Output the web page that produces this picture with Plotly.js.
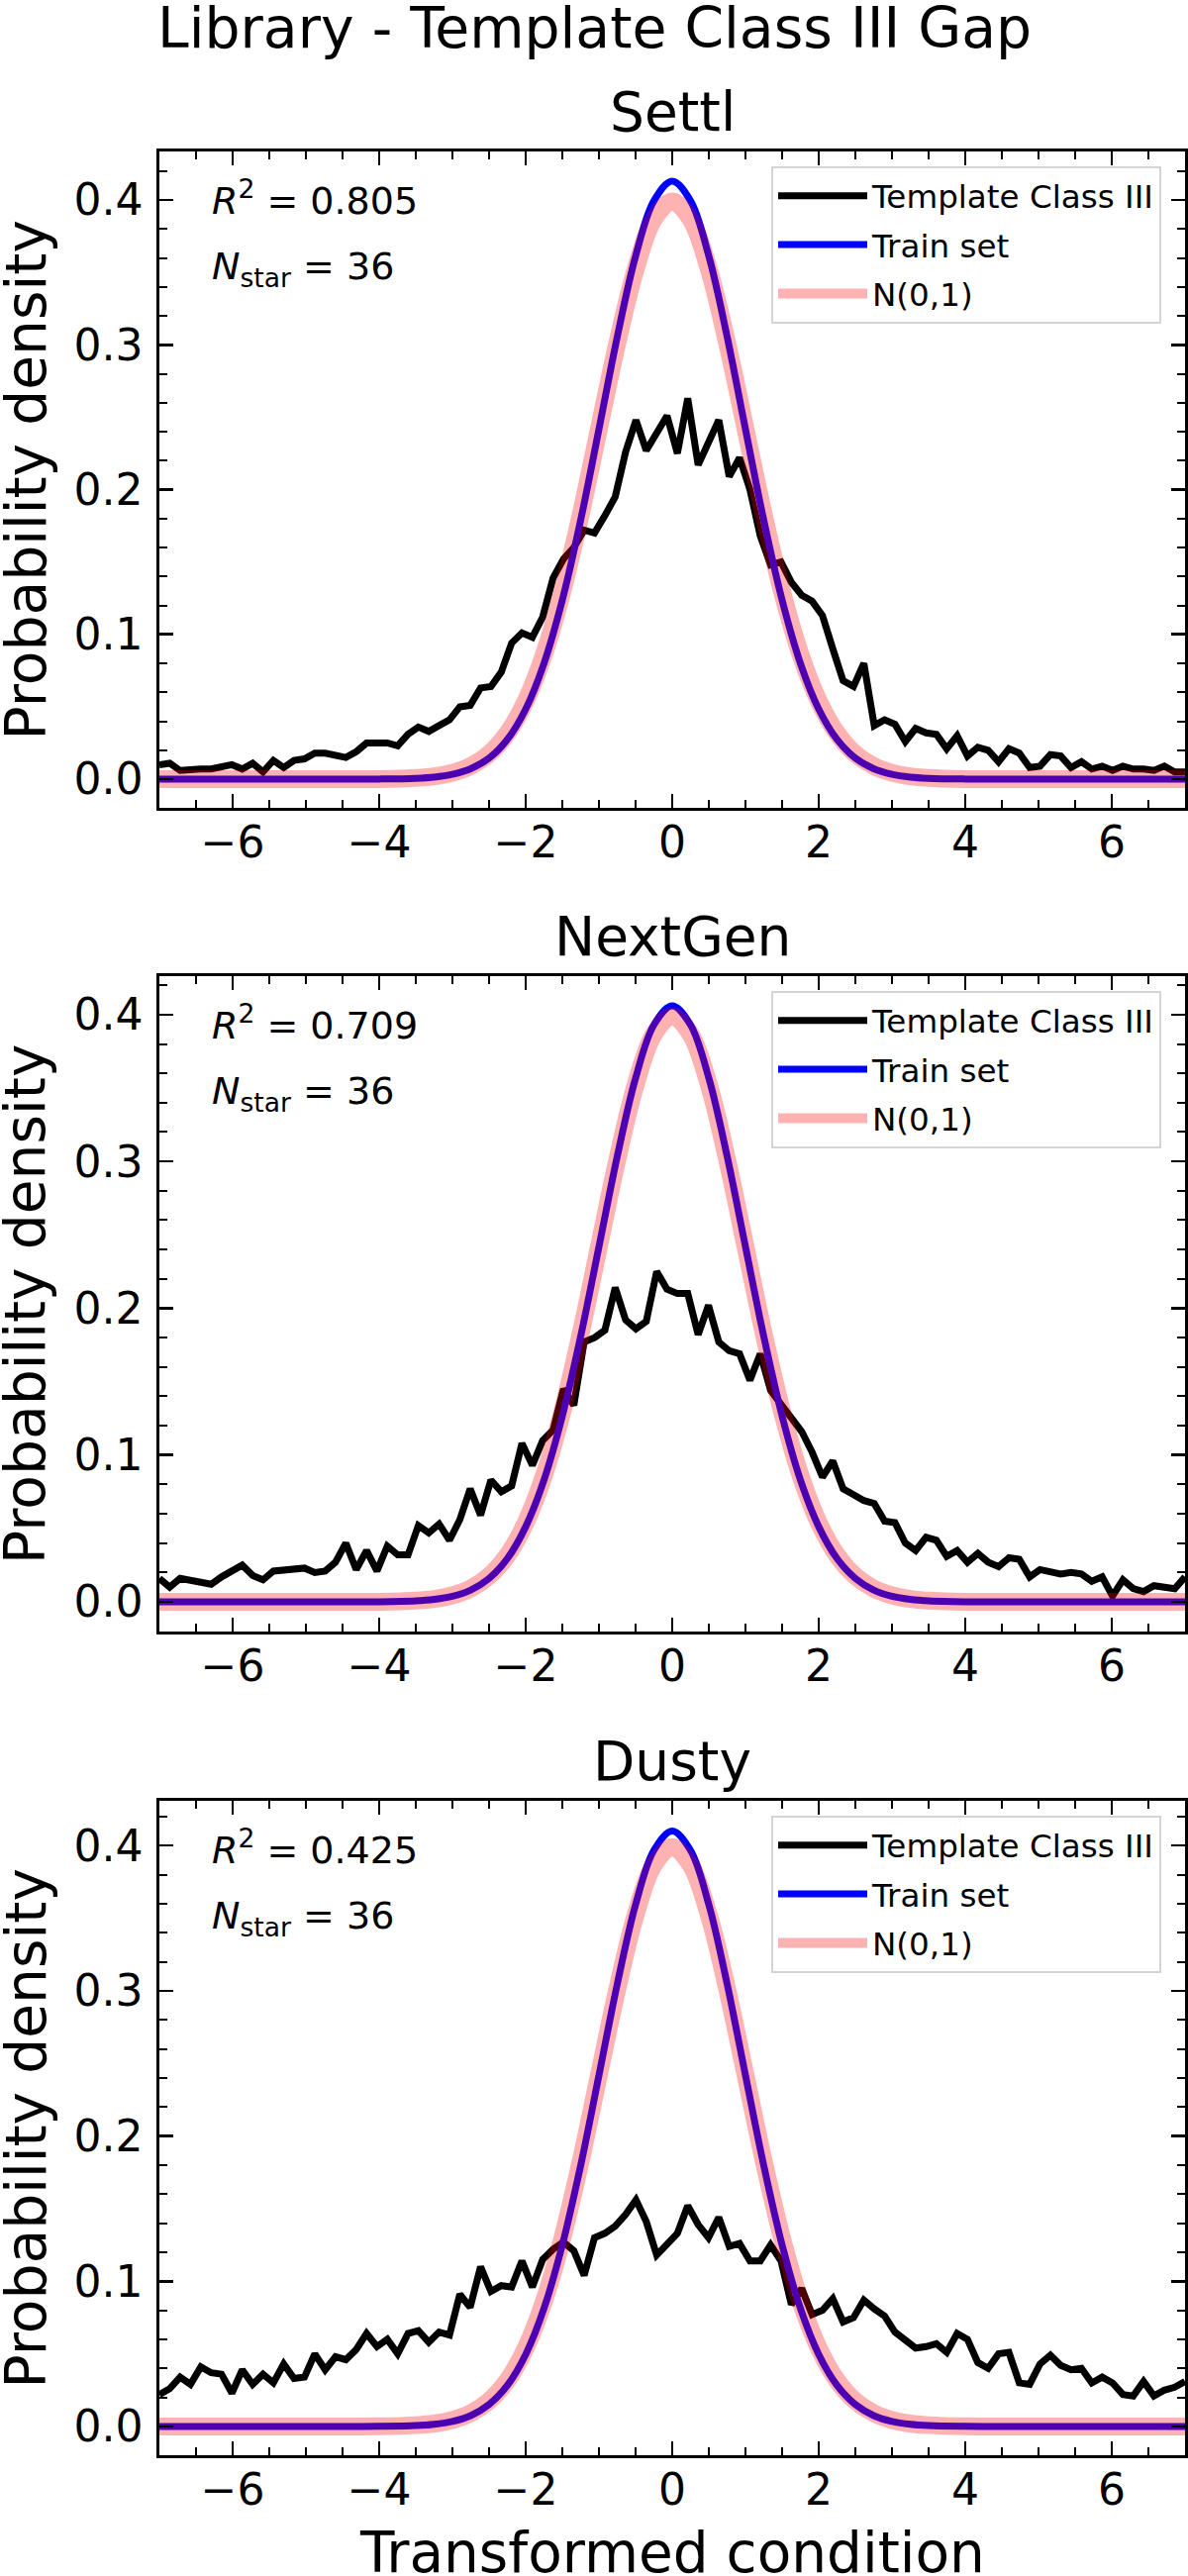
<!DOCTYPE html>
<html>
<head>
<meta charset="utf-8">
<script src="https://cdn.plot.ly/plotly-3.0.1.min.js"></script>
<style>body{margin:0;background:#fff}</style>
</head>
<body>
<div id="chart" style="width:1200px;height:2602px"></div>
<script>
"use strict";

// x positions of the template curves (same grid in every panel)
const templateX = [
  -7.000, -6.859, -6.717, -6.576, -6.434, -6.293, -6.152, -6.010, -5.869, -5.727,
  -5.586, -5.444, -5.303, -5.162, -5.020, -4.879, -4.737, -4.596, -4.455, -4.313,
  -4.172, -4.030, -3.889, -3.747, -3.606, -3.465, -3.323, -3.182, -3.040, -2.899,
  -2.758, -2.616, -2.475, -2.333, -2.192, -2.051, -1.909, -1.768, -1.626, -1.485,
  -1.343, -1.202, -1.061, -0.919, -0.778, -0.636, -0.495, -0.354, -0.212, -0.071,
  0.071, 0.212, 0.354, 0.495, 0.636, 0.778, 0.919, 1.061, 1.202, 1.343,
  1.485, 1.626, 1.768, 1.909, 2.051, 2.192, 2.333, 2.475, 2.616, 2.758,
  2.899, 3.040, 3.182, 3.323, 3.465, 3.606, 3.747, 3.889, 4.030, 4.172,
  4.313, 4.455, 4.596, 4.737, 4.879, 5.020, 5.162, 5.303, 5.444, 5.586,
  5.727, 5.869, 6.010, 6.152, 6.293, 6.434, 6.576, 6.717, 6.859, 7.000
];

const settlTemplate = [
  0.010, 0.011, 0.006, 0.007, 0.007, 0.007, 0.009, 0.010, 0.007, 0.011,
  0.005, 0.013, 0.008, 0.013, 0.014, 0.018, 0.018, 0.017, 0.015, 0.019,
  0.025, 0.025, 0.025, 0.023, 0.031, 0.036, 0.033, 0.037, 0.041, 0.050,
  0.051, 0.063, 0.064, 0.074, 0.094, 0.101, 0.098, 0.112, 0.139, 0.152,
  0.160, 0.172, 0.170, 0.182, 0.195, 0.226, 0.248, 0.227, 0.238, 0.251,
  0.225, 0.263, 0.217, 0.232, 0.248, 0.209, 0.222, 0.200, 0.168, 0.148,
  0.150, 0.136, 0.127, 0.123, 0.113, 0.090, 0.068, 0.064, 0.080, 0.037,
  0.041, 0.038, 0.026, 0.035, 0.032, 0.031, 0.021, 0.030, 0.016, 0.022,
  0.020, 0.012, 0.021, 0.018, 0.008, 0.009, 0.017, 0.016, 0.008, 0.012,
  0.007, 0.009, 0.006, 0.009, 0.007, 0.007, 0.006, 0.009, 0.005, 0.005
];

const nextgenTemplate = [
  0.016, 0.010, 0.016, 0.015, 0.014, 0.012, 0.017, 0.021, 0.025, 0.018,
  0.015, 0.021, 0.022, 0.023, 0.023, 0.020, 0.021, 0.027, 0.040, 0.022,
  0.035, 0.021, 0.038, 0.032, 0.032, 0.052, 0.047, 0.053, 0.042, 0.056,
  0.077, 0.059, 0.083, 0.075, 0.079, 0.108, 0.093, 0.110, 0.117, 0.145,
  0.134, 0.177, 0.180, 0.185, 0.214, 0.192, 0.186, 0.191, 0.225, 0.213,
  0.210, 0.210, 0.182, 0.202, 0.177, 0.171, 0.169, 0.151, 0.169, 0.144,
  0.135, 0.126, 0.116, 0.102, 0.085, 0.096, 0.077, 0.073, 0.069, 0.067,
  0.055, 0.054, 0.040, 0.035, 0.044, 0.042, 0.031, 0.035, 0.027, 0.033,
  0.027, 0.024, 0.030, 0.029, 0.017, 0.022, 0.021, 0.019, 0.020, 0.019,
  0.014, 0.017, 0.004, 0.015, 0.009, 0.007, 0.011, 0.010, 0.009, 0.017
];

const dustyTemplate = [
  0.022, 0.026, 0.034, 0.029, 0.041, 0.037, 0.036, 0.023, 0.039, 0.029,
  0.036, 0.030, 0.043, 0.033, 0.034, 0.050, 0.039, 0.048, 0.046, 0.053,
  0.064, 0.055, 0.060, 0.050, 0.064, 0.066, 0.058, 0.065, 0.063, 0.091,
  0.082, 0.110, 0.093, 0.097, 0.096, 0.114, 0.096, 0.115, 0.122, 0.127,
  0.121, 0.104, 0.130, 0.133, 0.138, 0.146, 0.156, 0.141, 0.118, 0.126,
  0.133, 0.152, 0.139, 0.130, 0.144, 0.124, 0.126, 0.114, 0.114, 0.125,
  0.114, 0.084, 0.095, 0.077, 0.080, 0.088, 0.072, 0.075, 0.087, 0.081,
  0.076, 0.065, 0.059, 0.054, 0.055, 0.057, 0.051, 0.064, 0.060, 0.044,
  0.040, 0.050, 0.051, 0.030, 0.029, 0.043, 0.049, 0.042, 0.039, 0.040,
  0.030, 0.034, 0.030, 0.022, 0.021, 0.031, 0.021, 0.025, 0.027, 0.031
];

// x positions of the smooth curves
const smoothX = [
  -7, -6, -5, -4.5, -4, -3.5, -3.25, -3, -2.75, -2.5, -2.25, -2, -1.75, -1.5, -1.25, -1, -0.75, -0.5, -0.25,
  0, 0.25, 0.5, 0.75, 1, 1.25, 1.5, 1.75, 2, 2.25, 2.5, 2.75, 3, 3.25, 3.5, 4, 4.5, 5, 6, 7
];

const normalCurve = [
  0, 0, 0, 0, 0.0001, 0.0009, 0.0020, 0.0044, 0.0091, 0.0175, 0.0317, 0.0540, 0.0863, 0.1295, 0.1826, 0.2420, 0.3011, 0.3521, 0.3867,
  0.3989, 0.3867, 0.3521, 0.3011, 0.2420, 0.1826, 0.1295, 0.0863, 0.0540, 0.0317, 0.0175, 0.0091, 0.0044, 0.0020, 0.0009, 0.0001, 0, 0, 0, 0
];

const settlTrain = [
  0, 0, 0, 0, 0.0001, 0.0006, 0.0014, 0.0033, 0.0072, 0.0145, 0.0274, 0.0484, 0.0800, 0.1237, 0.1788, 0.2417, 0.3055, 0.3612, 0.3994,
  0.4130, 0.3994, 0.3612, 0.3055, 0.2417, 0.1788, 0.1237, 0.0800, 0.0484, 0.0274, 0.0145, 0.0072, 0.0033, 0.0014, 0.0006, 0.0001, 0, 0, 0, 0
];

const nextgenTrain = [
  0, 0, 0, 0, 0.0001, 0.0007, 0.0017, 0.0038, 0.0081, 0.0160, 0.0295, 0.0512, 0.0831, 0.1266, 0.1807, 0.2419, 0.3034, 0.3567, 0.3930,
  0.4060, 0.3930, 0.3567, 0.3034, 0.2419, 0.1807, 0.1266, 0.0831, 0.0512, 0.0295, 0.0160, 0.0081, 0.0038, 0.0017, 0.0007, 0.0001, 0, 0, 0, 0
];

const dustyTrain = [
  0, 0, 0, 0, 0.0001, 0.0006, 0.0015, 0.0035, 0.0075, 0.0151, 0.0283, 0.0496, 0.0813, 0.1250, 0.1796, 0.2418, 0.3046, 0.3593, 0.3967,
  0.4100, 0.3967, 0.3593, 0.3046, 0.2418, 0.1796, 0.1250, 0.0813, 0.0496, 0.0283, 0.0151, 0.0075, 0.0035, 0.0015, 0.0006, 0.0001, 0, 0, 0, 0
];

const panelNames = ["Settl", "NextGen", "Dusty"];
const r2Values = ["0.805", "0.709", "0.425"];
const nStar = [36, 36, 36];

const templates = [settlTemplate, nextgenTemplate, dustyTemplate];
const trains = [settlTrain, nextgenTrain, dustyTrain];

// pixel layout of the three frames
const W = 1200, H = 2602;
const plotLeft = 161, plotRight = 1197;
const frameTop = [153, 986, 1819];
const frameBottom = [816, 1648, 2480];
const yRanges = [[-0.0198, 0.4335], [-0.0202, 0.4262], [-0.0198, 0.4308]];

const FONT = "DejaVu Sans";
function py(p) { return 1 - p / H; }
function px(p) { return (p - plotLeft) / (plotRight - plotLeft); }

var data = [];
var layout = {
    width: W,
    height: H,
    margin: {l: plotLeft, r: W - plotRight, t: 0, b: 0},
    paper_bgcolor: "white",
    plot_bgcolor: "white",
    font: {family: FONT, color: "black"},
    annotations: [],
    showlegend: true
};

for (let i = 0; i < 3; i++) {
    const sfx = i === 0 ? "" : String(i + 1);
    const legendId = "legend" + sfx;

    data.push({
        x: templateX, y: templates[i], xaxis: "x" + sfx, yaxis: "y" + sfx,
        type: "scatter", mode: "lines", name: "Template Class III",
        legend: legendId, legendgroup: "t" + i,
        line: {color: "black", width: 7}
    });
    data.push({
        x: smoothX, y: trains[i], xaxis: "x" + sfx, yaxis: "y" + sfx,
        type: "scatter", mode: "lines", name: "Train set",
        legend: legendId, legendgroup: "b" + i,
        line: {color: "blue", width: 7, shape: "spline", smoothing: 1}
    });
    data.push({
        x: smoothX, y: normalCurve, xaxis: "x" + sfx, yaxis: "y" + sfx,
        type: "scatter", mode: "lines", name: "N(0,1)",
        legend: legendId, legendgroup: "n" + i,
        opacity: 0.3,
        line: {color: "red", width: 18, shape: "spline", smoothing: 1}
    });

    layout["xaxis" + sfx] = {
        anchor: "y" + sfx,
        domain: [0, 1],
        range: [-7, 7], fixedrange: true,
        tick0: 0, dtick: 2,
        ticks: "inside", ticklen: 14, tickwidth: 2.6, tickcolor: "black",
        minor: {tick0: 0, dtick: 0.5, ticks: "inside", ticklen: 8, tickwidth: 2, tickcolor: "black", showgrid: false},
        showline: true, linewidth: 2.6, linecolor: "black", mirror: "allticks",
        showgrid: false, zeroline: false,
        tickfont: {family: FONT, size: 44, color: "black"},
        ticklabelstandoff: -5
    };
    layout["yaxis" + sfx] = {
        anchor: "x" + sfx,
        domain: [py(frameBottom[i]), py(frameTop[i])],
        range: yRanges[i], fixedrange: true,
        tick0: 0, dtick: 0.1, tickformat: ".1f",
        ticks: "inside", ticklen: 14, tickwidth: 2.6, tickcolor: "black",
        minor: {tick0: 0, dtick: 0.02, ticks: "inside", ticklen: 8, tickwidth: 2, tickcolor: "black", showgrid: false},
        showline: true, linewidth: 2.6, linecolor: "black", mirror: "allticks",
        showgrid: false, zeroline: false,
        tickfont: {family: FONT, size: 44, color: "black"},
        ticklabelstandoff: 5
    };
    layout[legendId] = {
        x: px(779), xanchor: "left",
        y: py(frameTop[i] + 15), yanchor: "top",
        bgcolor: "rgba(255,255,255,0.8)",
        bordercolor: "#d4d4d4", borderwidth: 2,
        font: {family: FONT, size: 32.6, color: "black"},
        itemwidth: 90,
        traceorder: "grouped", tracegroupgap: 4
    };

    // subplot title
    layout.annotations.push({
        text: panelNames[i], xref: "paper", yref: "paper",
        x: 0.5, y: py(frameTop[i] - 40), xanchor: "center", yanchor: "middle",
        showarrow: false, font: {family: FONT, size: 55, color: "black"}
    });
    // y axis label
    layout.annotations.push({
        text: "Probability density", xref: "paper", yref: "paper",
        x: px(25), y: py((frameTop[i] + frameBottom[i]) / 2), xanchor: "center", yanchor: "middle",
        textangle: -90, showarrow: false, font: {family: FONT, size: 56.7, color: "black"}
    });
    // statistics text
    layout.annotations.push({
        text: "<i>R</i><sup>2</sup> = " + r2Values[i], xref: "paper", yref: "paper",
        x: px(212), y: py(frameTop[i] + 47), xanchor: "left", yanchor: "middle",
        showarrow: false, font: {family: FONT, size: 38, color: "black"}
    });
    layout.annotations.push({
        text: "<i>N</i><sub>star</sub> = " + nStar[i], xref: "paper", yref: "paper",
        x: px(212), y: py(frameTop[i] + 118), xanchor: "left", yanchor: "middle",
        showarrow: false, font: {family: FONT, size: 38, color: "black"}
    });
}

layout.annotations.push({
    text: "Library - Template Class III Gap", xref: "paper", yref: "paper",
    x: px(600), y: py(28), xanchor: "center", yanchor: "middle",
    showarrow: false, font: {family: FONT, size: 56.8, color: "black"}
});
layout.annotations.push({
    text: "Transformed condition", xref: "paper", yref: "paper",
    x: 0.5, y: py(2578), xanchor: "center", yanchor: "middle",
    showarrow: false, font: {family: FONT, size: 56.5, color: "black"}
});

Plotly.newPlot("chart", data, layout, {staticPlot: true});
</script>
</body>
</html>
